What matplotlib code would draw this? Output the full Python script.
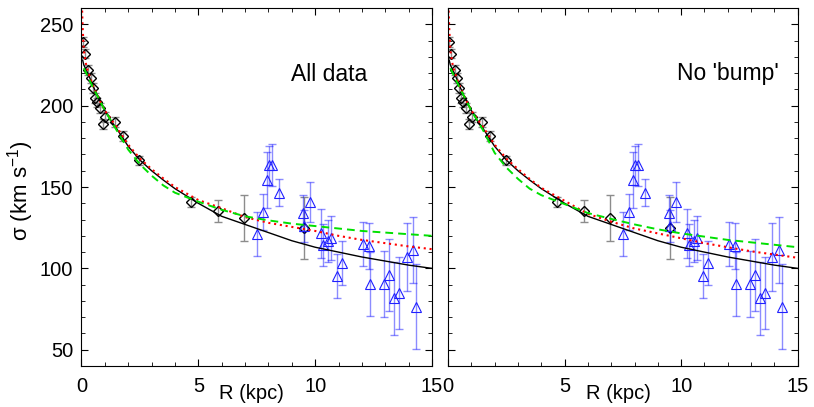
import numpy as np
import matplotlib
matplotlib.use('Agg')
import matplotlib.pyplot as plt
from matplotlib.ticker import MultipleLocator

# 字体设置
plt.rcParams['font.family'] = ['Liberation Sans', 'DejaVu Sans']
plt.rcParams['mathtext.default'] = 'regular'

# 黑色菱形数据（灰色误差棒）
r_dia = [0.06, 0.14, 0.28, 0.39, 0.49, 0.56, 0.66, 0.78, 0.92, 1.02, 1.45, 1.78, 2.47, 4.69, 5.83, 6.95, 9.52]
sig_dia = [239, 232, 222, 217, 211, 204.5, 202, 198.5, 188.7, 193, 190, 181.4, 166.3, 141, 135.3, 130.8, 124.6]
err_dia = [3, 3, 3, 3, 3, 3, 3, 3, 3, 3, 3, 3, 3, 3, 7, 14, 19]

# 蓝色三角数据
r_tri = [7.52, 7.78, 7.95, 8.02, 8.14, 8.46, 9.49, 9.53, 9.78, 10.23, 10.32, 10.56, 10.66,
         10.95, 11.16, 12.06, 12.3, 12.35, 12.94, 13.16, 13.37, 13.59, 13.91, 14.2, 14.31]
sig_tri = [121.3, 134.8, 154.3, 163.5, 163.5, 146.6, 133.8, 126, 141, 121.6, 114.4, 117, 118.5,
           95.3, 103.5, 115, 113.8, 90.4, 90.4, 96, 81.7, 84.7, 106.8, 111.3, 76.5]
err_tri = [13.5, 11, 17, 12, 13, 8.2, 11, 10, 12.3, 15, 13, 13, 13.5,
           13.6, 13.5, 13.5, 14, 19.5, 20, 22, 22.5, 22, 21, 20.5, 26]

# 模型曲线
r_black = [0.05, 0.1, 0.2, 0.3, 0.5, 0.75, 1, 1.25, 1.5, 2, 2.5, 3, 3.5, 4, 5, 6, 7, 8, 9, 10, 11, 12, 13, 14, 15]
sig_black = [228, 225, 222, 219, 212, 204, 197, 191, 186, 175, 166.6, 160, 154.3, 149, 140, 132, 127, 122, 117, 113, 110, 107, 104.5, 102, 100]

r_red = [0.02, 0.05, 0.1, 0.2, 0.3, 0.5, 0.75, 1, 1.25, 1.5, 2, 2.5, 3, 3.5, 4, 5, 6, 7, 8, 9, 10, 11, 12, 13, 14, 15]
sig_red_all = [262, 248, 234, 225, 220, 212, 204, 197, 192, 187, 176, 167.5, 161, 155.3, 150, 142, 137, 131.5, 128, 125.5, 123, 120, 117.5, 115.5, 113.5, 111.8]
sig_red_nobump = [262, 248, 234, 225, 220, 212, 204, 197, 192, 187, 176, 167.5, 161, 155, 149.5, 141.5, 133.5, 128.7, 124.5, 121.5, 118.5, 115.5, 113, 110.5, 108.5, 106.5]

r_green = [0.1, 0.2, 0.3, 0.5, 0.75, 1, 1.25, 1.5, 2, 2.5, 3, 3.5, 4, 5, 6, 7, 8, 9, 10, 11, 12, 13, 14, 15]
sig_green_all = [223, 220, 217, 211, 204, 197, 191, 185, 173, 164, 157, 151, 146.5, 141, 136, 132, 129.5, 127.5, 126, 124.5, 123, 122, 121, 120]
sig_green_nobump = [223, 220, 217, 211, 204, 197, 191, 185, 171, 162, 155, 149, 145, 139.5, 134, 130.4, 127, 124, 121.5, 119.5, 117.5, 116, 114.5, 113]

panel_titles = ['All data', "No 'bump'"]
title_pos = [(10.6, 219), (12.0, 220)]

fig = plt.figure(figsize=(8.14, 4.07), dpi=100)
ax_l = fig.add_axes([0.1001, 0.1007, 0.4306, 0.8796])
ax_r = fig.add_axes([0.5504, 0.1007, 0.4296, 0.8796])

panels = [(ax_l, sig_red_all, sig_green_all), (ax_r, sig_red_nobump, sig_green_nobump)]

for i, (ax, sig_red, sig_green) in enumerate(panels):
    # 数据点
    ax.errorbar(r_dia, sig_dia, yerr=err_dia, fmt='none', ecolor='#8c8c8c', elinewidth=1, capsize=3)
    ax.plot(r_dia, sig_dia, 'D', ms=5, mfc='none', mec='k', mew=1)
    ax.errorbar(r_tri, sig_tri, yerr=err_tri, fmt='none', ecolor='blue', alpha=0.45, elinewidth=1, capsize=3)
    ax.plot(r_tri, sig_tri, '^', ms=7, mfc='none', mec='#2020ff', mew=0.8)

    # 曲线
    ax.plot(r_black, sig_black, 'k-', lw=1)
    ax.plot(r_red, sig_red, color='red', ls=(0, (1, 1.8)), lw=1.5)
    ax.plot(r_green, sig_green, color='#00e000', ls=(0, (4, 2.6)), lw=1.4)

    ax.set_xlim(0, 15)
    ax.set_ylim(40, 260)
    ax.xaxis.set_major_locator(MultipleLocator(5))
    ax.xaxis.set_minor_locator(MultipleLocator(1))
    ax.yaxis.set_major_locator(MultipleLocator(50))
    ax.yaxis.set_minor_locator(MultipleLocator(10))
    ax.tick_params(which='both', direction='in', top=True, right=True)
    ax.tick_params(which='major', length=5, labelsize=14.5)
    ax.tick_params(which='minor', length=3)
    ax.tick_params(axis='x', pad=8)
    ax.tick_params(axis='y', pad=6)

    ax.text(0.486, -0.0754, 'R (kpc)', ha='center', va='center', fontsize=14.5, transform=ax.transAxes)
    ax.text(title_pos[i][0], title_pos[i][1], panel_titles[i], ha='center', va='center', fontsize=16.5)

ax_r.set_yticklabels([])
ax_l.text(-0.175, 0.49, r'σ (km s$^{-1}$)', rotation=90, ha='center', va='center',
          fontsize=16, transform=ax_l.transAxes)

fig.savefig('out.png', dpi=100)
